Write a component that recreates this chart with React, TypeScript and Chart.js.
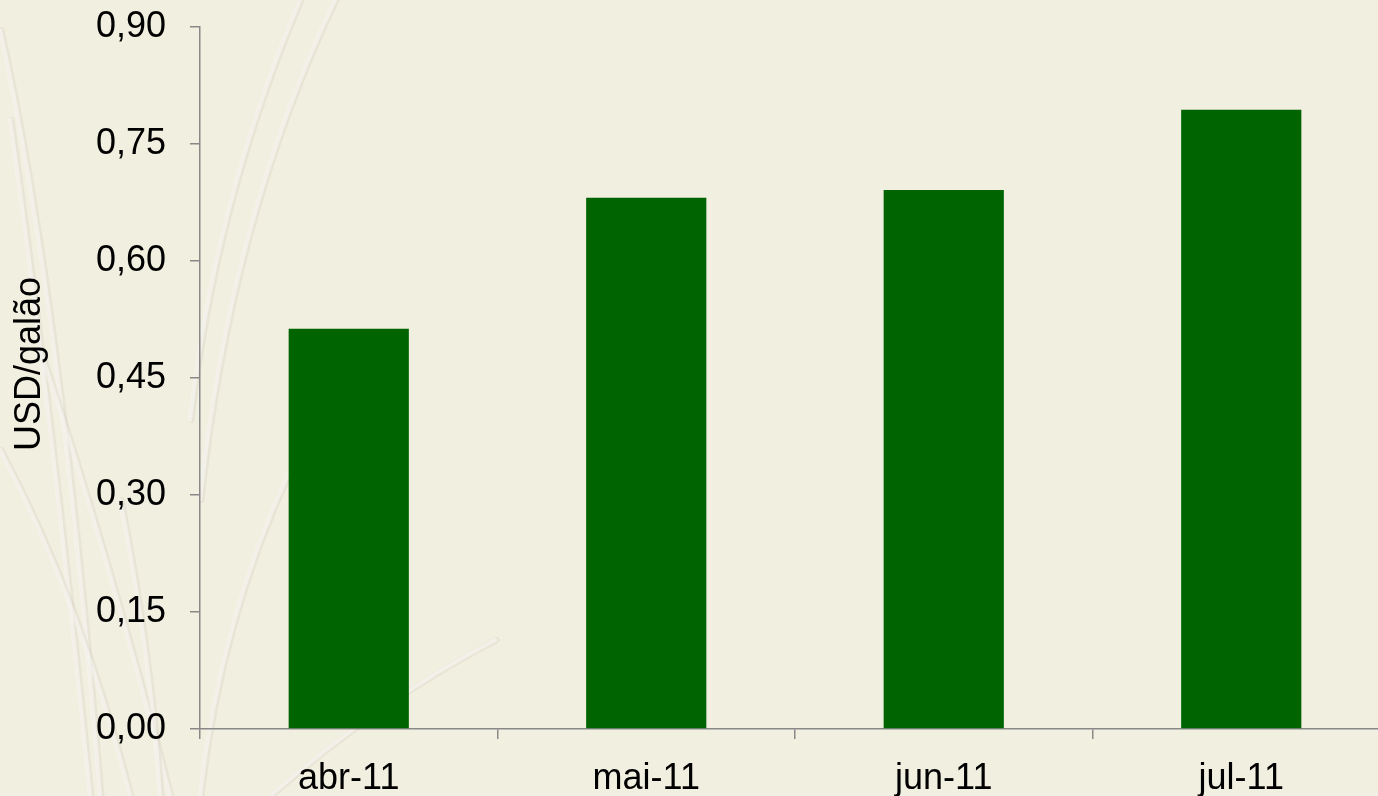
import React, { useEffect, useRef } from "react";
import { Chart, registerables } from "chart.js";

Chart.register(...registerables);

const categories = ["abr-11", "mai-11", "jun-11", "jul-11"];
const values = [0.513, 0.681, 0.691, 0.794];
const yTicks = [0, 0.15, 0.3, 0.45, 0.6, 0.75, 0.9];
const yTitle = "USD/galão";

const BG = "#F1EFE0";
const BAR = "#006400";
const AXIS = "#888888";
const FONT = "'Liberation Sans', Arial, sans-serif";
const FSIZE = 36;

const backgroundPlugin = {
  id: "bgDecor",
  beforeDraw(chart: any) {
    const ctx = chart.ctx;
    const w = chart.width;
    const h = chart.height;
    ctx.save();
    ctx.fillStyle = BG;
    ctx.fillRect(0, 0, w, h);
    // faint decorative grass strokes
    ctx.lineCap = "round";
    const strokes: number[][] = [
      [0, 30, 60, 300, 100, 796],
      [10, 120, 50, 400, 90, 796],
      [335, 0, 230, 220, 200, 500],
      [300, 0, 215, 200, 190, 420],
      [290, 470, 220, 620, 200, 796],
      [495, 640, 380, 700, 270, 796],
      [0, 450, 80, 600, 130, 796],
      [40, 350, 110, 560, 170, 796],
      [120, 500, 150, 650, 160, 796],
    ];
    for (const s of strokes) {
      ctx.strokeStyle = "rgba(215,210,195,0.35)";
      ctx.lineWidth = 6;
      ctx.beginPath();
      ctx.moveTo(s[0] + 1.5, s[1]);
      ctx.quadraticCurveTo(s[2] + 1.5, s[3], s[4] + 1.5, s[5]);
      ctx.stroke();
      ctx.strokeStyle = "rgba(255,255,255,0.45)";
      ctx.lineWidth = 4;
      ctx.beginPath();
      ctx.moveTo(s[0], s[1]);
      ctx.quadraticCurveTo(s[2], s[3], s[4], s[5]);
      ctx.stroke();
    }
    ctx.restore();
  },
  afterDraw(chart: any) {
    // y-axis title, placed slightly above the plot-area centre as in the source
    const ctx = chart.ctx;
    const area = chart.chartArea;
    ctx.save();
    ctx.translate(30, (area.top + area.bottom) / 2 - 14);
    ctx.rotate(-Math.PI / 2);
    ctx.fillStyle = "#000";
    ctx.font = `${FSIZE}px ${FONT}`;
    ctx.textAlign = "center";
    ctx.textBaseline = "middle";
    ctx.fillText(yTitle, 0, 0);
    ctx.restore();
  },
};

export default function App() {
  const ref = useRef<HTMLCanvasElement>(null);
  useEffect(() => {
    document.body.style.margin = "0";
    document.body.style.overflow = "hidden";
    const chart = new Chart(ref.current as HTMLCanvasElement, {
      type: "bar",
      data: {
        labels: categories,
        datasets: [
          {
            data: values,
            backgroundColor: BAR,
            borderWidth: 0,
            barPercentage: 1,
            categoryPercentage: 0.404,
          },
        ],
      },
      options: {
        responsive: false,
        animation: false,
        devicePixelRatio: 1,
        layout: { padding: { left: 0, top: 27, right: 5, bottom: 0 } },
        plugins: {
          legend: { display: false },
          tooltip: { enabled: false },
        },
        scales: {
          x: {
            offset: true,
            grid: {
              offset: true,
              display: true,
              drawOnChartArea: false,
              drawTicks: true,
              tickLength: 10,
              color: AXIS,
              lineWidth: 1.5,
            },
            border: { display: true, color: AXIS, width: 1.5 },
            ticks: {
              color: "#000",
              font: { family: FONT, size: FSIZE },
              padding: 18,
              maxRotation: 0,
            },
            afterFit: (scale: any) => {
              scale.height = 67;
              scale.paddingLeft = 0;
              scale.paddingRight = 0;
            },
          },
          y: {
            min: 0,
            max: 0.9,
            afterBuildTicks: (scale: any) => {
              scale.ticks = yTicks.map((v) => ({ value: v }));
            },
            grid: {
              display: true,
              drawOnChartArea: false,
              drawTicks: true,
              tickLength: 10,
              color: AXIS,
              lineWidth: 1.5,
            },
            border: { display: true, color: AXIS, width: 1.5 },
            ticks: {
              color: "#000",
              font: { family: FONT, size: FSIZE },
              padding: 24,
              callback: (v: any) => Number(v).toFixed(2).replace(".", ","),
            },
            title: { display: false },
            afterFit: (scale: any) => {
              scale.width = 200;
              scale.paddingTop = 0;
              scale.paddingBottom = 0;
            },
          },
        },
      },
      plugins: [backgroundPlugin],
    });
    return () => chart.destroy();
  }, []);
  return (
    <div
      style={{
        position: "fixed",
        left: 0,
        top: 0,
        width: 1378,
        height: 796,
        overflow: "hidden",
        background: BG,
      }}
    >
      <canvas ref={ref} width={1395} height={796} style={{ display: "block" }} />
    </div>
  );
}
